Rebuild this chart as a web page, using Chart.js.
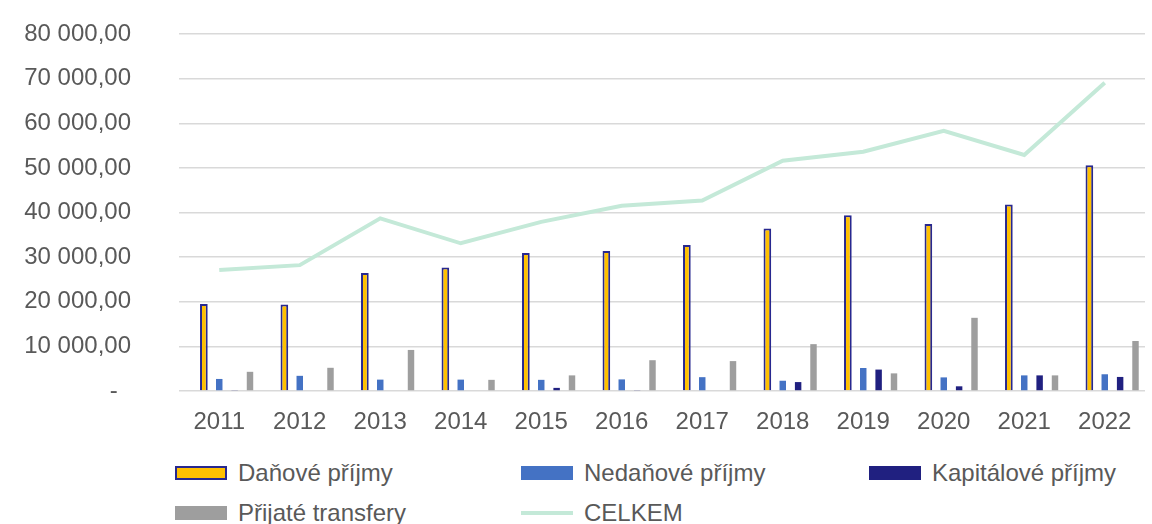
<!DOCTYPE html>
<html>
<head>
<meta charset="utf-8">
<script src="https://cdn.jsdelivr.net/npm/chart.js@4/dist/chart.umd.min.js"></script>
<style>
  html, body { margin: 0; padding: 0; background: #fff; }
  #wrap { position: relative; width: 1152px; height: 524px; overflow: hidden; }
  #chart { position: absolute; left: 0; top: 0; }
  .leg { position: absolute; font-family: "Liberation Sans", Arial, sans-serif; font-size: 24px; color: #595959; white-space: nowrap; line-height: 26px; }
  .leg .sw { position: absolute; left: 0; top: 6px; width: 52px; height: 14px; box-sizing: border-box; }
  .leg .tx { position: absolute; left: 63px; top: 0; }
</style>
</head>
<body>
<div id="wrap">
  <canvas id="chart" width="1152" height="448"></canvas>
  <div id="legend"></div>
</div>
<script>
var years = ['2011', '2012', '2013', '2014', '2015', '2016', '2017', '2018', '2019', '2020', '2021', '2022'];
var danove = [19500, 19400, 26450, 27700, 30900, 31400, 32700, 36400, 39400, 37400, 41800, 50600];
var nedanove = [2700, 3400, 2550, 2550, 2500, 2600, 3100, 2300, 5150, 3050, 3500, 3750];
var kapitalove = [200, 0, 0, 0, 700, 200, 0, 2000, 4800, 1050, 3500, 3150];
var transfery = [4300, 5200, 9200, 2500, 3500, 6900, 6700, 10500, 3950, 16400, 3500, 11200];
var celkem = [27100, 28200, 38700, 33100, 37900, 41500, 42700, 51600, 53600, 58300, 52900, 69100];
var yTicks = [0, 10000, 20000, 30000, 40000, 50000, 60000, 70000, 80000];

var font = { family: '"Liberation Sans", Arial, sans-serif', size: 24 };
var grey = '#595959';

function fmt(v) {
  if (v === 0) return '-\u00a0\u00a0';
  var s = Math.round(v).toString().replace(/\B(?=(\d{3})+(?!\d))/g, ' ');
  return s + ',00';
}

// fixed axis sizes so the plot area lands where the original's does
function noPad(axis) {
  axis.paddingTop = 0;
  axis.paddingBottom = 0;
  axis.paddingLeft = 0;
  axis.paddingRight = 0;
}

var ctx = document.getElementById('chart').getContext('2d');
var chart = new Chart(ctx, {
  type: 'bar',
  data: {
    labels: years,
    datasets: [{
      label: 'CELKEM',
      type: 'line',
      data: celkem,
      borderColor: '#C4E9D8',
      backgroundColor: '#C4E9D8',
      borderWidth: 4,
      pointRadius: 0,
      tension: 0,
      order: 0
    }, {
      label: '',
      data: years.map(function () { return null; }),
      order: 1
    }, {
      label: 'Daňové příjmy',
      data: danove,
      backgroundColor: '#FFC000',
      borderColor: '#28288F',
      borderWidth: 2,
      barPercentage: 0.5,
      order: 1
    }, {
      label: 'Nedaňové příjmy',
      data: nedanove,
      backgroundColor: '#4472C4',
      barPercentage: 0.42,
      order: 1
    }, {
      label: 'Kapitálové příjmy',
      data: kapitalove,
      backgroundColor: '#202080',
      barPercentage: 0.42,
      order: 1
    }, {
      label: 'Přijaté transfery',
      data: transfery,
      backgroundColor: '#9E9E9E',
      barPercentage: 0.42,
      order: 1
    }]
  },
  options: {
    responsive: false,
    animation: false,
    layout: { padding: { top: 34, right: 7, left: 0, bottom: 0 } },
    plugins: { legend: { display: false }, tooltip: { enabled: false } },
    datasets: { bar: { categoryPercentage: 0.955 } },
    scales: {
      x: {
        grid: { display: false },
        border: { display: false },
        ticks: { color: grey, font: font, padding: 9, maxRotation: 0 },
        afterFit: function (axis) { axis.height = 57; noPad(axis); }
      },
      y: {
        min: 0,
        max: 80000,
        afterBuildTicks: function (axis) {
          axis.ticks = yTicks.map(function (v) { return { value: v }; });
        },
        grid: { color: '#D9D9D9', lineWidth: 1.5, drawTicks: false },
        border: { display: false },
        ticks: { color: grey, font: font, padding: 48, callback: function (v) { return fmt(v); } },
        afterFit: function (axis) { axis.width = 179; noPad(axis); }
      }
    }
  }
});

// legend in three columns, like the original
var legendItems = [
  { text: 'Daňové příjmy', x: 175, y: 460, style: 'background:#FFC000;border:2px solid #28288F;' },
  { text: 'Nedaňové příjmy', x: 521, y: 460, style: 'background:#4472C4;' },
  { text: 'Kapitálové příjmy', x: 869, y: 460, style: 'background:#202080;' },
  { text: 'Přijaté transfery', x: 175, y: 500, style: 'background:#9E9E9E;' },
  { text: 'CELKEM', x: 521, y: 500, style: 'background:#C4E9D8;height:4px;top:11px;' }
];
var leg = document.getElementById('legend');
legendItems.forEach(function (it) {
  var d = document.createElement('div');
  d.className = 'leg';
  d.style.left = it.x + 'px';
  d.style.top = it.y + 'px';
  d.innerHTML = '<span class="sw" style="' + it.style + '"></span><span class="tx"></span>';
  d.querySelector('.tx').textContent = it.text;
  leg.appendChild(d);
});
</script>
</body>
</html>
